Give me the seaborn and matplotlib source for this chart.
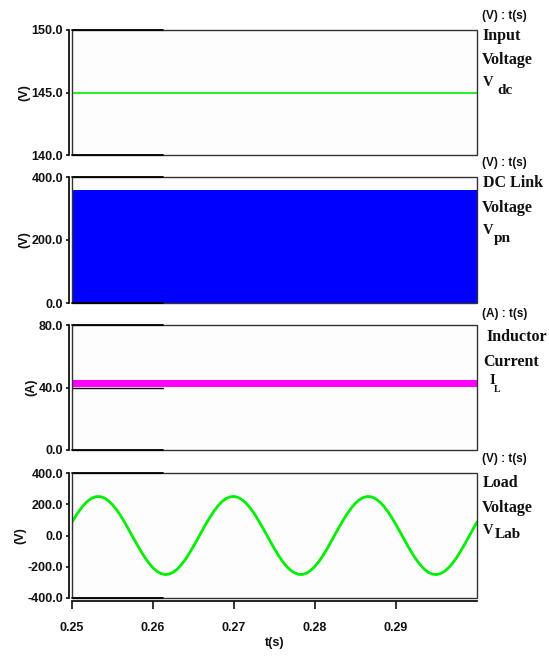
import numpy as np
import pandas as pd
import matplotlib
matplotlib.use("Agg")
import matplotlib.pyplot as plt
from matplotlib.patches import Rectangle
from matplotlib.ticker import FormatStrFormatter
import seaborn as sns

# ---- data -------------------------------------------------------------
t_span = [0.25, 0.30]

input_voltage = [145.0, 145.0]          # V_dc (V)
dc_link_levels = [0.0, 358.0]           # V_pn switching between these (V)
inductor_band = [40.3, 44.6]            # I_L ripple band (A)

# load voltage V_Lab sampled every 0.5 ms from 0.25 s to 0.30 s (V)
load_t0 = 0.25
load_dt = 0.0005
load_voltage = [
    86, 128, 166, 198, 223, 240, 249, 249, 240, 222,
    197, 165, 127, 84, 38, -9, -55, -100, -141, -177,
    -207, -230, -244, -250, -247, -235, -215, -187, -153, -113,
    -69, -23, 24, 71, 114, 154, 188, 216, 236, 247,
    250, 244, 229, 206, 176, 140, 98, 54, 7, -40,
    -86, -128, -166, -198, -223, -240, -249, -249, -240, -222,
    -197, -165, -127, -84, -38, 9, 55, 100, 141, 177,
    207, 230, 244, 250, 247, 235, 215, 187, 153, 113,
    69, 23, -24, -71, -114, -154, -188, -216, -236, -247,
    -250, -244, -229, -206, -176, -140, -98, -54, -7, 40,
    86,
]

x_ticks = [0.25, 0.26, 0.27, 0.28, 0.29]
y_ticks = [
    [140.0, 145.0, 150.0],
    [0.0, 200.0, 400.0],
    [0.0, 40.0, 80.0],
    [-400.0, -200.0, 0.0, 200.0, 400.0],
]
y_limits = [(140, 150), (0, 400), (0, 80), (-400, 400)]
y_units = ["(V)", "(V)", "(A)", "(V)"]
unit_heads = ["(V) : t(s)", "(V) : t(s)", "(A) : t(s)", "(V) : t(s)"]

# ---- style ------------------------------------------------------------
sns.set_theme(style="white")
plt.rcParams["font.family"] = ["Liberation Sans", "DejaVu Sans"]
plt.rcParams["font.weight"] = "bold"

W, H = 549, 656
fig = plt.figure(figsize=(W / 100, H / 100), dpi=100)
fig.patch.set_facecolor("white")

def fx(x):
    return x / W

def fy(y):
    return 1 - y / H

# panel boxes: (top, bottom) in pixels
boxes = [(30, 155), (177, 303), (325, 450), (473, 598)]
left_px, right_px = 72, 477
TICK_FS = 9

axes = []
for top, bot in boxes:
    ax = fig.add_axes([fx(left_px), fy(bot), fx(right_px - left_px), (bot - top) / H])
    axes.append(ax)

for i, ax in enumerate(axes):
    ax.set_facecolor("#fdfdfd")
    ax.set_xlim(*t_span)
    ax.set_ylim(*y_limits[i])
    ax.set_yticks(y_ticks[i])
    ax.yaxis.set_major_formatter(FormatStrFormatter("%.1f"))
    for s in ("top", "right", "bottom"):
        ax.spines[s].set_visible(False)
    ax.spines["left"].set_position(("outward", 2.3))
    ax.spines["left"].set_linewidth(1.3)
    ax.spines["left"].set_color("#111111")
    ax.tick_params(axis="y", direction="out", length=2.5, width=1.2,
                   pad=1.5, labelsize=TICK_FS, colors="#111111", left=True)
    for lab in ax.get_yticklabels():
        lab.set_fontweight("bold")
    ax.add_patch(Rectangle((0, 0), 1, 1, transform=ax.transAxes, fill=False,
                           lw=1.0, ec="#333333", zorder=6, clip_on=False))
    # darker stretch of frame on the left part of top and bottom edges
    ax.axhline(y_limits[i][1], xmin=0, xmax=0.225, color="black", lw=1.3, zorder=7, clip_on=False)
    ax.axhline(y_limits[i][0], xmin=0, xmax=0.225, color="black", lw=1.3, zorder=7, clip_on=False)
    if i < 3:
        ax.tick_params(axis="x", bottom=False, labelbottom=False)

# input voltage
df_in = pd.DataFrame({"t": t_span, "v": input_voltage})
sns.lineplot(data=df_in, x="t", y="v", ax=axes[0], color="#00ee00", lw=1.2)
axes[0].set_xlabel("")

# DC link voltage (high-frequency switching appears as a solid block)
axes[1].fill_between(t_span, dc_link_levels[0], dc_link_levels[1], color="#0000ff", lw=0)

# inductor current ripple band
axes[2].axhline(40.0, xmin=0, xmax=0.225, color="black", lw=1.0, zorder=1)
axes[2].fill_between(t_span, inductor_band[0], inductor_band[1], color="#ff00ff", lw=0, zorder=2)

# load voltage
load_t = [load_t0 + k * load_dt for k in range(len(load_voltage))]
df_load = pd.DataFrame({"t": load_t, "v": load_voltage})
sns.lineplot(data=df_load, x="t", y="v", ax=axes[3], color="#00ee00", lw=2.0)

for i, ax in enumerate(axes):
    ax.set_ylabel(y_units[i], fontsize=9, fontweight="bold", labelpad=1, color="#111111")
    if i < 3:
        ax.set_xlabel("")

ax = axes[3]
ax.spines["bottom"].set_visible(True)
ax.spines["bottom"].set_position(("outward", 2.3))
ax.spines["bottom"].set_linewidth(1.3)
ax.spines["bottom"].set_color("#111111")
ax.set_xticks(x_ticks)
ax.xaxis.set_major_formatter(FormatStrFormatter("%.2f"))
ax.tick_params(axis="x", direction="out", length=6, width=1.2, pad=9,
               labelsize=TICK_FS, colors="#111111", bottom=True)
for lab in ax.get_xticklabels():
    lab.set_fontweight("bold")
ax.set_xlabel("t(s)", fontsize=9, fontweight="bold", labelpad=2, color="#111111")
ax.set_xlim(*t_span)

# right-hand captions
serif = ["Liberation Serif", "DejaVu Serif"]
sans = ["Liberation Sans", "DejaVu Sans"]

def head(x, y, s):
    fig.text(fx(x), fy(y), s, family=sans, fontsize=8.5, fontweight="bold",
             va="center", ha="left", color="#111111")

def cap(x, y, s, size=11.5):
    fig.text(fx(x), fy(y), s, family=serif, fontsize=size, fontweight="bold",
             va="center", ha="left", color="#111111")

head(482, 16, unit_heads[0])
cap(482, 36, "Input")
cap(482, 60, "Voltage")
cap(483, 83, "V", 10.5)
cap(497, 91, "dc", 11)

head(482, 163, unit_heads[1])
cap(483, 183, "DC Link")
cap(482, 208, "Voltage")
cap(483, 231, "V", 10.5)
cap(494, 239, "pn", 11)

head(482, 314, unit_heads[2])
cap(486, 337, "Inductor")
cap(483, 362, "Current")
cap(489, 381, "I", 10.5)
cap(494, 389, "L", 7)

head(482, 459, unit_heads[3])
cap(483, 483, "Load")
cap(482, 508, "Voltage")
cap(483, 530, "V", 10.5)
cap(495, 535, "Lab", 11)

fig.savefig("out.png", dpi=100)
